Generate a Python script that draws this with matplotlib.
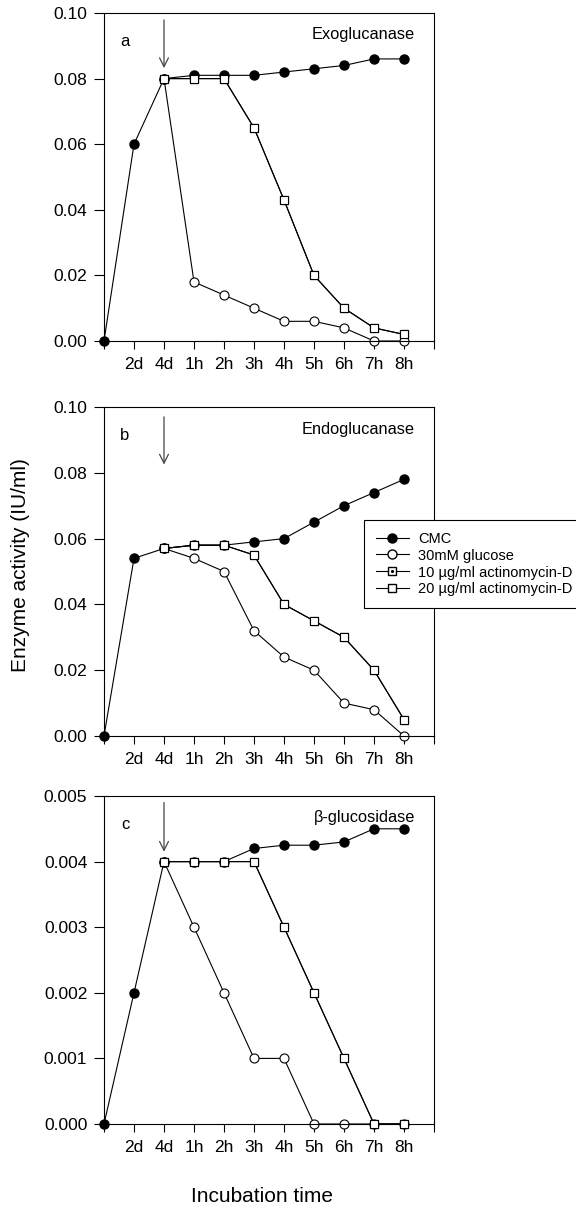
import matplotlib
matplotlib.use("Agg")
import matplotlib.pyplot as plt
from matplotlib.lines import Line2D

plt.rcParams['font.family'] = ['Liberation Sans', 'DejaVu Sans']

x_all = list(range(11))
x_after = list(range(2, 11))
tick_labels = ["", "2d", "4d", "1h", "2h", "3h", "4h", "5h", "6h", "7h", "8h", ""]

# Panel a: Exoglucanase
a_cmc = [0.0, 0.060, 0.080, 0.081, 0.081, 0.081, 0.082, 0.083, 0.084, 0.086, 0.086]
a_glu = [0.080, 0.018, 0.014, 0.010, 0.006, 0.006, 0.004, 0.000, 0.000]
a_act10 = [0.080, 0.080, 0.080, 0.065, 0.043, 0.020, 0.010, 0.004, 0.002]
a_act20 = [0.080, 0.080, 0.080, 0.065, 0.043, 0.020, 0.010, 0.004, 0.002]

# Panel b: Endoglucanase
b_cmc = [0.0, 0.054, 0.057, 0.058, 0.058, 0.059, 0.060, 0.065, 0.070, 0.074, 0.078]
b_glu = [0.057, 0.054, 0.050, 0.032, 0.024, 0.020, 0.010, 0.008, 0.000]
b_act10 = [0.057, 0.058, 0.058, 0.055, 0.040, 0.035, 0.030, 0.020, 0.005]
b_act20 = [0.057, 0.058, 0.058, 0.055, 0.040, 0.035, 0.030, 0.020, 0.005]

# Panel c: beta-glucosidase
c_cmc = [0.0, 0.002, 0.004, 0.004, 0.004, 0.0042, 0.00425, 0.00425, 0.0043, 0.0045, 0.0045]
c_glu = [0.004, 0.003, 0.002, 0.001, 0.001, 0.0, 0.0, 0.0, 0.0]
c_act10 = [0.004, 0.004, 0.004, 0.004, 0.003, 0.002, 0.001, 0.0, 0.0]
c_act20 = [0.004, 0.004, 0.004, 0.004, 0.003, 0.002, 0.001, 0.0, 0.0]

panels = [
    ("a", "Exoglucanase", a_cmc, a_glu, a_act10, a_act20, 0.10, 0.02, "%.2f",
     (0.0979, 0.0832)),
    ("b", "Endoglucanase", b_cmc, b_glu, b_act10, b_act20, 0.10, 0.02, "%.2f",
     (0.097, 0.0825)),
    ("c", "\u03b2-glucosidase", c_cmc, c_glu, c_act10, c_act20, 0.005, 0.001, "%.3f",
     (0.0049, 0.00415)),
]

W, H = 576, 1216
fig = plt.figure(figsize=(W / 100, H / 100), dpi=100)

axes_px = [(104, 13, 434, 341), (104, 407, 434, 736), (104, 796, 434, 1124)]

ms = 6.5
lw = 0.8
for (lab, title, cmc, glu, a10, a20, ymax, ystep, fmt, arr), (l, t, r, b) in zip(panels, axes_px):
    ax = fig.add_axes([l / W, 1 - b / H, (r - l) / W, (b - t) / H])
    ax.plot(x_after, a10, '-', color='black', lw=lw, marker='s', ms=ms - 1,
            mfc='white', mec='black', mew=0.8)
    ax.plot(x_after, a20, '-', color='black', lw=lw, marker='s', ms=ms - 1,
            mfc='white', mec='black', mew=0.8, zorder=3)
    ax.plot(x_after, glu, '-', color='black', lw=lw, marker='o', ms=ms,
            mfc='white', mec='black', mew=0.8, zorder=2)
    ax.plot(x_all, cmc, '-', color='black', lw=lw, marker='o', ms=ms,
            mfc='black', mec='black', zorder=2.5)
    ax.plot(x_after, a20, 'none', marker='s', ms=ms - 1, mfc='white', mec='black',
            mew=0.8, zorder=4)
    ax.set_xlim(0, 11)
    ax.set_ylim(0, ymax)
    ax.set_xticks(list(range(12)))
    ax.set_xticklabels(tick_labels, fontsize=12.5)
    yt = [i * ystep for i in range(6)]
    ax.set_yticks(yt)
    ax.set_yticklabels([fmt % v for v in yt], fontsize=12.5)
    ax.tick_params(axis='y', direction='out', length=7, width=0.8, right=False, pad=5)
    ax.tick_params(axis='x', direction='out', length=5.5, width=0.8, top=False, pad=6)
    for s in ax.spines.values():
        s.set_linewidth(0.8)
    ax.text(0.7, ymax * 0.912, lab, fontsize=12, ha='center', va='center')
    ax.text(10.37, ymax * 0.933, title, fontsize=11.8, ha='right', va='center')
    ax.annotate("", xy=(2, arr[1]), xytext=(2, arr[0]),
                arrowprops=dict(arrowstyle='->', color='#444444', lw=0.9,
                                mutation_scale=16, shrinkA=0, shrinkB=0))
    for line in ax.lines:
        line.set_clip_on(False)

fig.text(21 / W, 1 - 565 / H, "Enzyme activity (IU/ml)", rotation=90,
         fontsize=15, ha='center', va='center')
fig.text(262 / W, 1 - 1196 / H, "Incubation time", fontsize=15,
         ha='center', va='center')

h_cmc = Line2D([], [], color='black', lw=lw, marker='o', ms=ms, mfc='black', mec='black')
h_glu = Line2D([], [], color='black', lw=lw, marker='o', ms=ms, mfc='white', mec='black')
h_10a = Line2D([], [], color='black', lw=lw, marker='s', ms=ms - 1, mfc='white', mec='black')
h_10b = Line2D([], [], ls='none', marker='.', ms=2.5, mfc='black', mec='black')
h_20 = Line2D([], [], color='black', lw=lw, marker='s', ms=ms - 1, mfc='white', mec='black')

leg = fig.legend([h_cmc, h_glu, (h_10a, h_10b), h_20],
                 ["CMC", "30mM glucose", "10 \u00b5g/ml actinomycin-D",
                  "20 \u00b5g/ml actinomycin-D"],
                 loc='upper left', bbox_to_anchor=(364 / W, 1 - 520 / H),
                 fontsize=10.5, frameon=True, fancybox=False, edgecolor='black',
                 framealpha=1, handlelength=2.3, handletextpad=0.6,
                 labelspacing=0.2, borderpad=0.8, borderaxespad=0)
leg.get_frame().set_linewidth(0.8)

fig.savefig("out.png", dpi=100)
